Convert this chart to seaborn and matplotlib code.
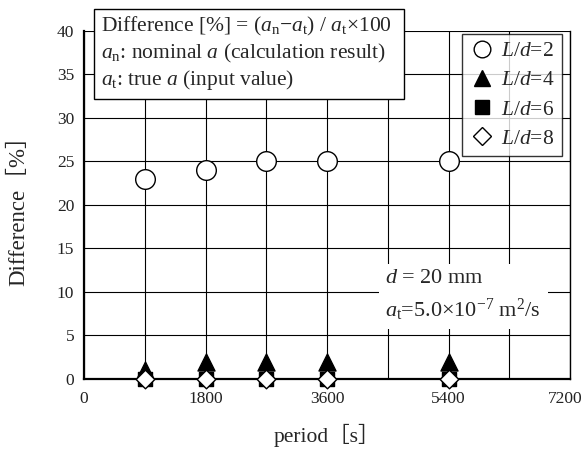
import matplotlib
matplotlib.use("Agg")
import matplotlib.pyplot as plt
import matplotlib.transforms as mtransforms
import seaborn as sns
import pandas as pd
from matplotlib.lines import Line2D
from matplotlib.ticker import MultipleLocator

periods = [900, 1800, 2700, 3600, 5400]
ld2 = [23, 24, 25, 25, 25]
ld4 = [1, 2, 2, 2, 2]
ld6 = [0, 0, 0, 0, 0]
ld8 = [0, 0, 0, 0, 0]
series_labels = ["$L/d$=2", "$L/d$=4", "$L/d$=6", "$L/d$=8"]
xticks = [0, 1800, 3600, 5400, 7200]
yticks = [0, 5, 10, 15, 20, 25, 30, 35, 40]

sns.set_style("white")
plt.rcParams['font.family'] = ['Liberation Serif', 'Noto Sans CJK JP', 'DejaVu Sans']
plt.rcParams['mathtext.fontset'] = 'custom'
plt.rcParams['mathtext.rm'] = 'Liberation Serif'
plt.rcParams['mathtext.it'] = 'Liberation Serif:italic'
plt.rcParams['mathtext.bf'] = 'Liberation Serif:bold'

df = pd.DataFrame({
    "period": periods * 4,
    "diff": ld2 + ld4 + ld6 + ld8,
    "series": sum([[s] * len(periods) for s in series_labels], []),
})

fig = plt.figure(figsize=(5.85, 4.53), dpi=100)
ax = fig.add_axes([0.1436, 0.1634, 0.831, 0.7682])

styles = {
    series_labels[0]: dict(marker="o", facecolor="white", s=200),
    series_labels[1]: dict(marker="^", facecolor="black", s=150),
    series_labels[2]: dict(marker="s", facecolor="black", s=110),
    series_labels[3]: dict(marker="D", facecolor="white", s=90),
}
for i, lab in enumerate(series_labels):
    st = styles[lab]
    sub = df[df["series"] == lab]
    sns.scatterplot(data=sub, x="period", y="diff", ax=ax, marker=st["marker"],
                    s=st["s"], color=st["facecolor"], edgecolor="black",
                    linewidth=1.0, zorder=3 + i, clip_on=False, legend=False)

ax.set_xlim(0, 7200)
ax.set_ylim(0, 40)
ax.set_xticks(xticks)
ax.set_yticks(yticks)
ax.xaxis.set_minor_locator(MultipleLocator(900))
ax.grid(True, which="both", axis="x", color="black", linewidth=0.8)
ax.grid(True, which="major", axis="y", color="black", linewidth=0.8)
ax.set_axisbelow(True)
ax.tick_params(which="both", length=0, labelsize=12.5, colors="#222222")
ax.tick_params(axis="x", pad=9)
ax.tick_params(axis="y", pad=7)
for sp in ax.spines.values():
    sp.set_color("black")
    sp.set_linewidth(1.0)
ax.spines["left"].set_linewidth(1.6)
ax.spines["bottom"].set_linewidth(1.6)
ax.spines["top"].set_visible(False)

# nudge last x tick label so it stays inside the figure
last = ax.get_xticklabels()[-1]
last.set_transform(last.get_transform() + mtransforms.ScaledTranslation(-5 / 100, 0, fig.dpi_scale_trans))

ax.set_xlabel("period［s］", fontsize=15.5, labelpad=12)
ax.set_ylabel("Difference［%］", fontsize=16.5, labelpad=20)

# legend
handles = [
    Line2D([], [], marker="o", linestyle="none", markerfacecolor="white", markeredgecolor="black", markersize=12),
    Line2D([], [], marker="^", linestyle="none", markerfacecolor="black", markeredgecolor="black", markersize=12),
    Line2D([], [], marker="s", linestyle="none", markerfacecolor="black", markeredgecolor="black", markersize=10),
    Line2D([], [], marker="D", linestyle="none", markerfacecolor="white", markeredgecolor="black", markersize=9),
]
leg = ax.legend(handles, series_labels, loc="upper right", bbox_to_anchor=(0.983, 0.992),
                fontsize=15.5, frameon=True, fancybox=False, handletextpad=0.35,
                handlelength=1.1, borderpad=0.35, labelspacing=0.42, borderaxespad=0)
leg.get_frame().set_edgecolor("black")
leg.get_frame().set_linewidth(1.0)
leg.set_zorder(10)

# top-left formula box
formula = ("Difference [%] = ($a_\\mathrm{n}$−$a_\\mathrm{t}$) / $a_\\mathrm{t}$×100  \n"
           "$a_\\mathrm{n}$: nominal $a$ (calculation result)\n"
           "$a_\\mathrm{t}$: true $a$ (input value)")
ax.text(0.034, 1.045, formula, transform=ax.transAxes, fontsize=15.5, va="top", ha="left",
        linespacing=1.2, zorder=12,
        bbox=dict(boxstyle="square,pad=0.3", facecolor="white", edgecolor="black", linewidth=1.0),
        clip_on=False)

# conditions box
ax.text(0.62, 0.315, "$d$ = 20 mm\n$a_\\mathrm{t}$=5.0×10$^{-7}$ m$^2$/s",
        transform=ax.transAxes, fontsize=16, va="top", ha="left", linespacing=1.4, zorder=12,
        bbox=dict(boxstyle="square,pad=0.3", facecolor="white", edgecolor="none"))

fig.savefig("out.png", dpi=100)
